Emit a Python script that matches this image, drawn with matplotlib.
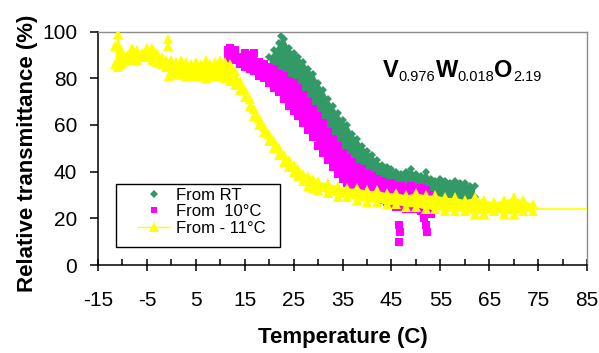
import matplotlib
matplotlib.use('Agg')
import matplotlib.pyplot as plt
from matplotlib.lines import Line2D
from matplotlib.patches import Rectangle
from matplotlib.ticker import MultipleLocator

plt.rcParams['font.family'] = ['Liberation Sans', 'DejaVu Sans']
plt.rcParams['axes.unicode_minus'] = False

# ---- data (band edges of each scatter series) ----
rt_x = [20, 21, 22, 22.5, 23, 24, 25, 26, 27, 28, 29, 30, 31, 32, 33, 34, 35, 36, 37, 38, 39, 40,
        41, 42, 43, 44, 45, 46, 47, 48, 49, 50, 51, 52, 53, 54, 55, 56, 57, 58, 59, 60, 61, 62]
rt_hi = [89, 92, 95, 98, 97, 93, 91, 89, 87, 84, 82, 78, 75, 71, 68, 65, 62, 60, 56, 54, 51, 49,
         47, 45, 43, 42, 41, 40, 39, 40, 41, 39, 38, 40, 37, 36, 37, 36, 35, 36, 35, 35, 34, 34]
rt_lo = [85, 85, 84, 83, 82, 80, 78, 76, 73, 70, 66, 62, 59, 56, 53, 50, 48, 45, 43, 41, 39, 37,
         36, 34, 33, 31, 30, 29, 28, 27, 27, 26, 26, 26, 26, 26, 27, 27, 27, 28, 28, 28, 29, 29]

p10_x = [11.5, 12, 13, 14, 15, 16, 17, 18, 19, 20, 21, 22, 23, 24, 25, 26, 27, 28, 29, 30, 31, 32,
         33, 34, 35, 36, 37, 38, 39, 40, 41, 42, 43, 44, 45, 46, 47, 48, 49, 50, 51, 52, 53]
p10_hi = [92, 93, 92, 89, 91, 90, 91, 87, 86, 85, 84, 82, 81, 79, 78, 76, 73, 70, 67, 64, 61, 57,
          54, 51, 48, 46, 44, 42, 41, 39, 38, 37, 36, 35, 35, 34, 34, 33, 34, 33, 33, 32, 30]
p10_lo = [89, 88, 88, 86, 85, 84, 83, 81, 80, 78, 76, 74, 71, 68, 66, 64, 61, 58, 55, 51, 48, 45,
          42, 39, 37, 35, 33, 32, 31, 31, 30, 29, 28, 27, 26, 25, 25, 24, 24, 24, 23, 22, 22]
p10_out_x = [46.6, 46.8, 46.6, 51.6, 52.0, 52.3]
p10_out_y = [17, 14, 10, 20, 17, 14]

m11_x = [-11.5, -11, -10.5, -10, -9, -8, -7, -6, -5, -4, -3, -2, -1, 0, 1, 2, 3, 4, 5, 6, 7, 8,
         9, 10, 11, 12, 13, 14, 15, 16, 17, 18, 19, 20, 21, 22, 23, 24, 25, 26, 27, 28, 29, 30,
         32, 34, 36, 38, 40, 42, 44, 46, 48, 50, 52, 54, 56, 58, 60, 62, 64, 66, 68, 70, 72, 74]
m11_hi = [94, 99, 93, 91, 90, 93, 92, 91, 93, 93, 91, 89, 88, 88, 87, 88, 87, 86, 87, 86, 88, 86,
          87, 88, 87, 86, 83, 79, 75, 71, 67, 63, 59, 56, 53, 50, 47, 45, 43, 41, 39, 38, 37, 36,
          35, 34, 33, 33, 32, 32, 31, 31, 30, 31, 30, 30, 29, 29, 28, 29, 28, 27, 28, 29, 28, 26]
m11_lo = [86, 85, 86, 87, 88, 88, 88, 89, 89, 88, 87, 86, 85, 83, 82, 82, 81, 81, 81, 81, 80, 81,
          81, 81, 80, 79, 77, 75, 72, 68, 64, 60, 57, 53, 50, 47, 44, 42, 40, 38, 36, 34, 33, 32,
          31, 29, 29, 28, 27, 27, 26, 26, 25, 25, 24, 24, 23, 23, 23, 22, 22, 23, 22, 22, 23, 23]
m11_out_x = [-0.6, -0.6, -0.4]
m11_out_y = [97, 94, 81]
m11_tail_x = [74, 85]
m11_tail_y = [24, 24]

GREEN = '#339966'
MAGENTA = '#ff00ff'
YELLOW = '#ffff00'

fig = plt.figure(figsize=(5.99, 3.53), dpi=100)
ax = fig.add_axes([0.1636, 0.249, 0.8164, 0.6615])

# From RT
ax.fill_between(rt_x, rt_lo, rt_hi, color=GREEN, lw=0, zorder=2)
ax.plot(rt_x, rt_hi, 'D', color=GREEN, ms=4.5, mew=0, zorder=2)
ax.plot(rt_x, rt_lo, 'D', color=GREEN, ms=4.5, mew=0, zorder=2)

# From 10 C
ax.fill_between(p10_x, p10_lo, p10_hi, color=MAGENTA, lw=0, zorder=3)
ax.plot(p10_x, p10_hi, 's', color=MAGENTA, ms=5.5, mew=0, zorder=3)
ax.plot(p10_x, p10_lo, 's', color=MAGENTA, ms=5.5, mew=0, zorder=3)
ax.plot(p10_out_x, p10_out_y, 's', color=MAGENTA, ms=5.5, mew=0, zorder=3)

# From -11 C
ax.fill_between(m11_x, m11_lo, m11_hi, color=YELLOW, lw=0, zorder=4)
ax.plot(m11_x, m11_hi, '^', color=YELLOW, ms=6.5, mew=0, zorder=4)
ax.plot(m11_x, m11_lo, '^', color=YELLOW, ms=6.5, mew=0, zorder=4)
ax.plot(m11_out_x, m11_out_y, '^', color=YELLOW, ms=6.5, mew=0, zorder=4)
ax.plot(m11_tail_x, m11_tail_y, '-', color=YELLOW, lw=1.2, zorder=4)

ax.set_xlim(-15, 85)
ax.set_ylim(0, 100)
ax.xaxis.set_minor_locator(MultipleLocator(5))
ax.set_xticks(range(-15, 86, 10))
ax.set_yticks(range(0, 101, 20))

for s in ['left', 'bottom']:
    ax.spines[s].set_color('black')
    ax.spines[s].set_linewidth(1.1)
for s in ['top', 'right']:
    ax.spines[s].set_color('#8c8c8c')
    ax.spines[s].set_linewidth(1.0)

ax.tick_params(axis='x', which='major', direction='inout', length=9, width=1.1,
               labelsize=15, pad=14)
ax.tick_params(axis='x', which='minor', direction='in', length=4, width=1.1)
ax.tick_params(axis='y', which='major', direction='out', length=6, width=1.1,
               labelsize=15, pad=9)

ax.set_xlabel('Temperature (C)', fontsize=16, fontweight='bold', va='center')
ax.xaxis.set_label_coords(0.501, -0.31)
ax.set_ylabel('Relative transmittance (%)', fontsize=16, fontweight='bold', va='center')
ax.yaxis.set_label_coords(-0.145, 0.48)

# formula label V0.976W0.018O2.19
parts = [('V', True), ('0.976', False), ('W', True), ('0.018', False), ('O', True), ('2.19', False)]
prev = None
for txt, big in parts:
    kw = dict(fontsize=17, fontweight='bold') if big else dict(fontsize=10.5)
    if prev is None:
        prev = ax.text(0.583, 0.785, txt, transform=ax.transAxes, va='bottom', ha='left', **kw)
    else:
        dy = -1.5 if not big else 1.5
        prev = ax.annotate(txt, xy=(1, 0), xycoords=prev, xytext=(0, dy),
                           textcoords='offset points', va='bottom', ha='left', **kw)

# legend
ax.add_patch(Rectangle((0.0368, 0.0775), 0.3355, 0.2695, transform=ax.transAxes,
                       facecolor='white', edgecolor='black', lw=1.0, zorder=5))
handles = [
    Line2D([], [], ls='none', marker='D', color=GREEN, ms=4.5, mew=0),
    Line2D([], [], ls='none', marker='s', color=MAGENTA, ms=5, mew=0),
    Line2D([], [], ls='-', lw=1, marker='^', color=YELLOW, ms=7, mew=0),
]
labels = ['From RT', 'From  10°C', 'From - 11°C']
leg = ax.legend(handles, labels, loc='upper left', bbox_to_anchor=(0.0757, 0.345),
                frameon=False, fontsize=12, borderpad=0.2, handlelength=1.9,
                handletextpad=0.33, labelspacing=0.08, borderaxespad=0)
leg.set_zorder(6)

fig.savefig('out.png', dpi=100)
